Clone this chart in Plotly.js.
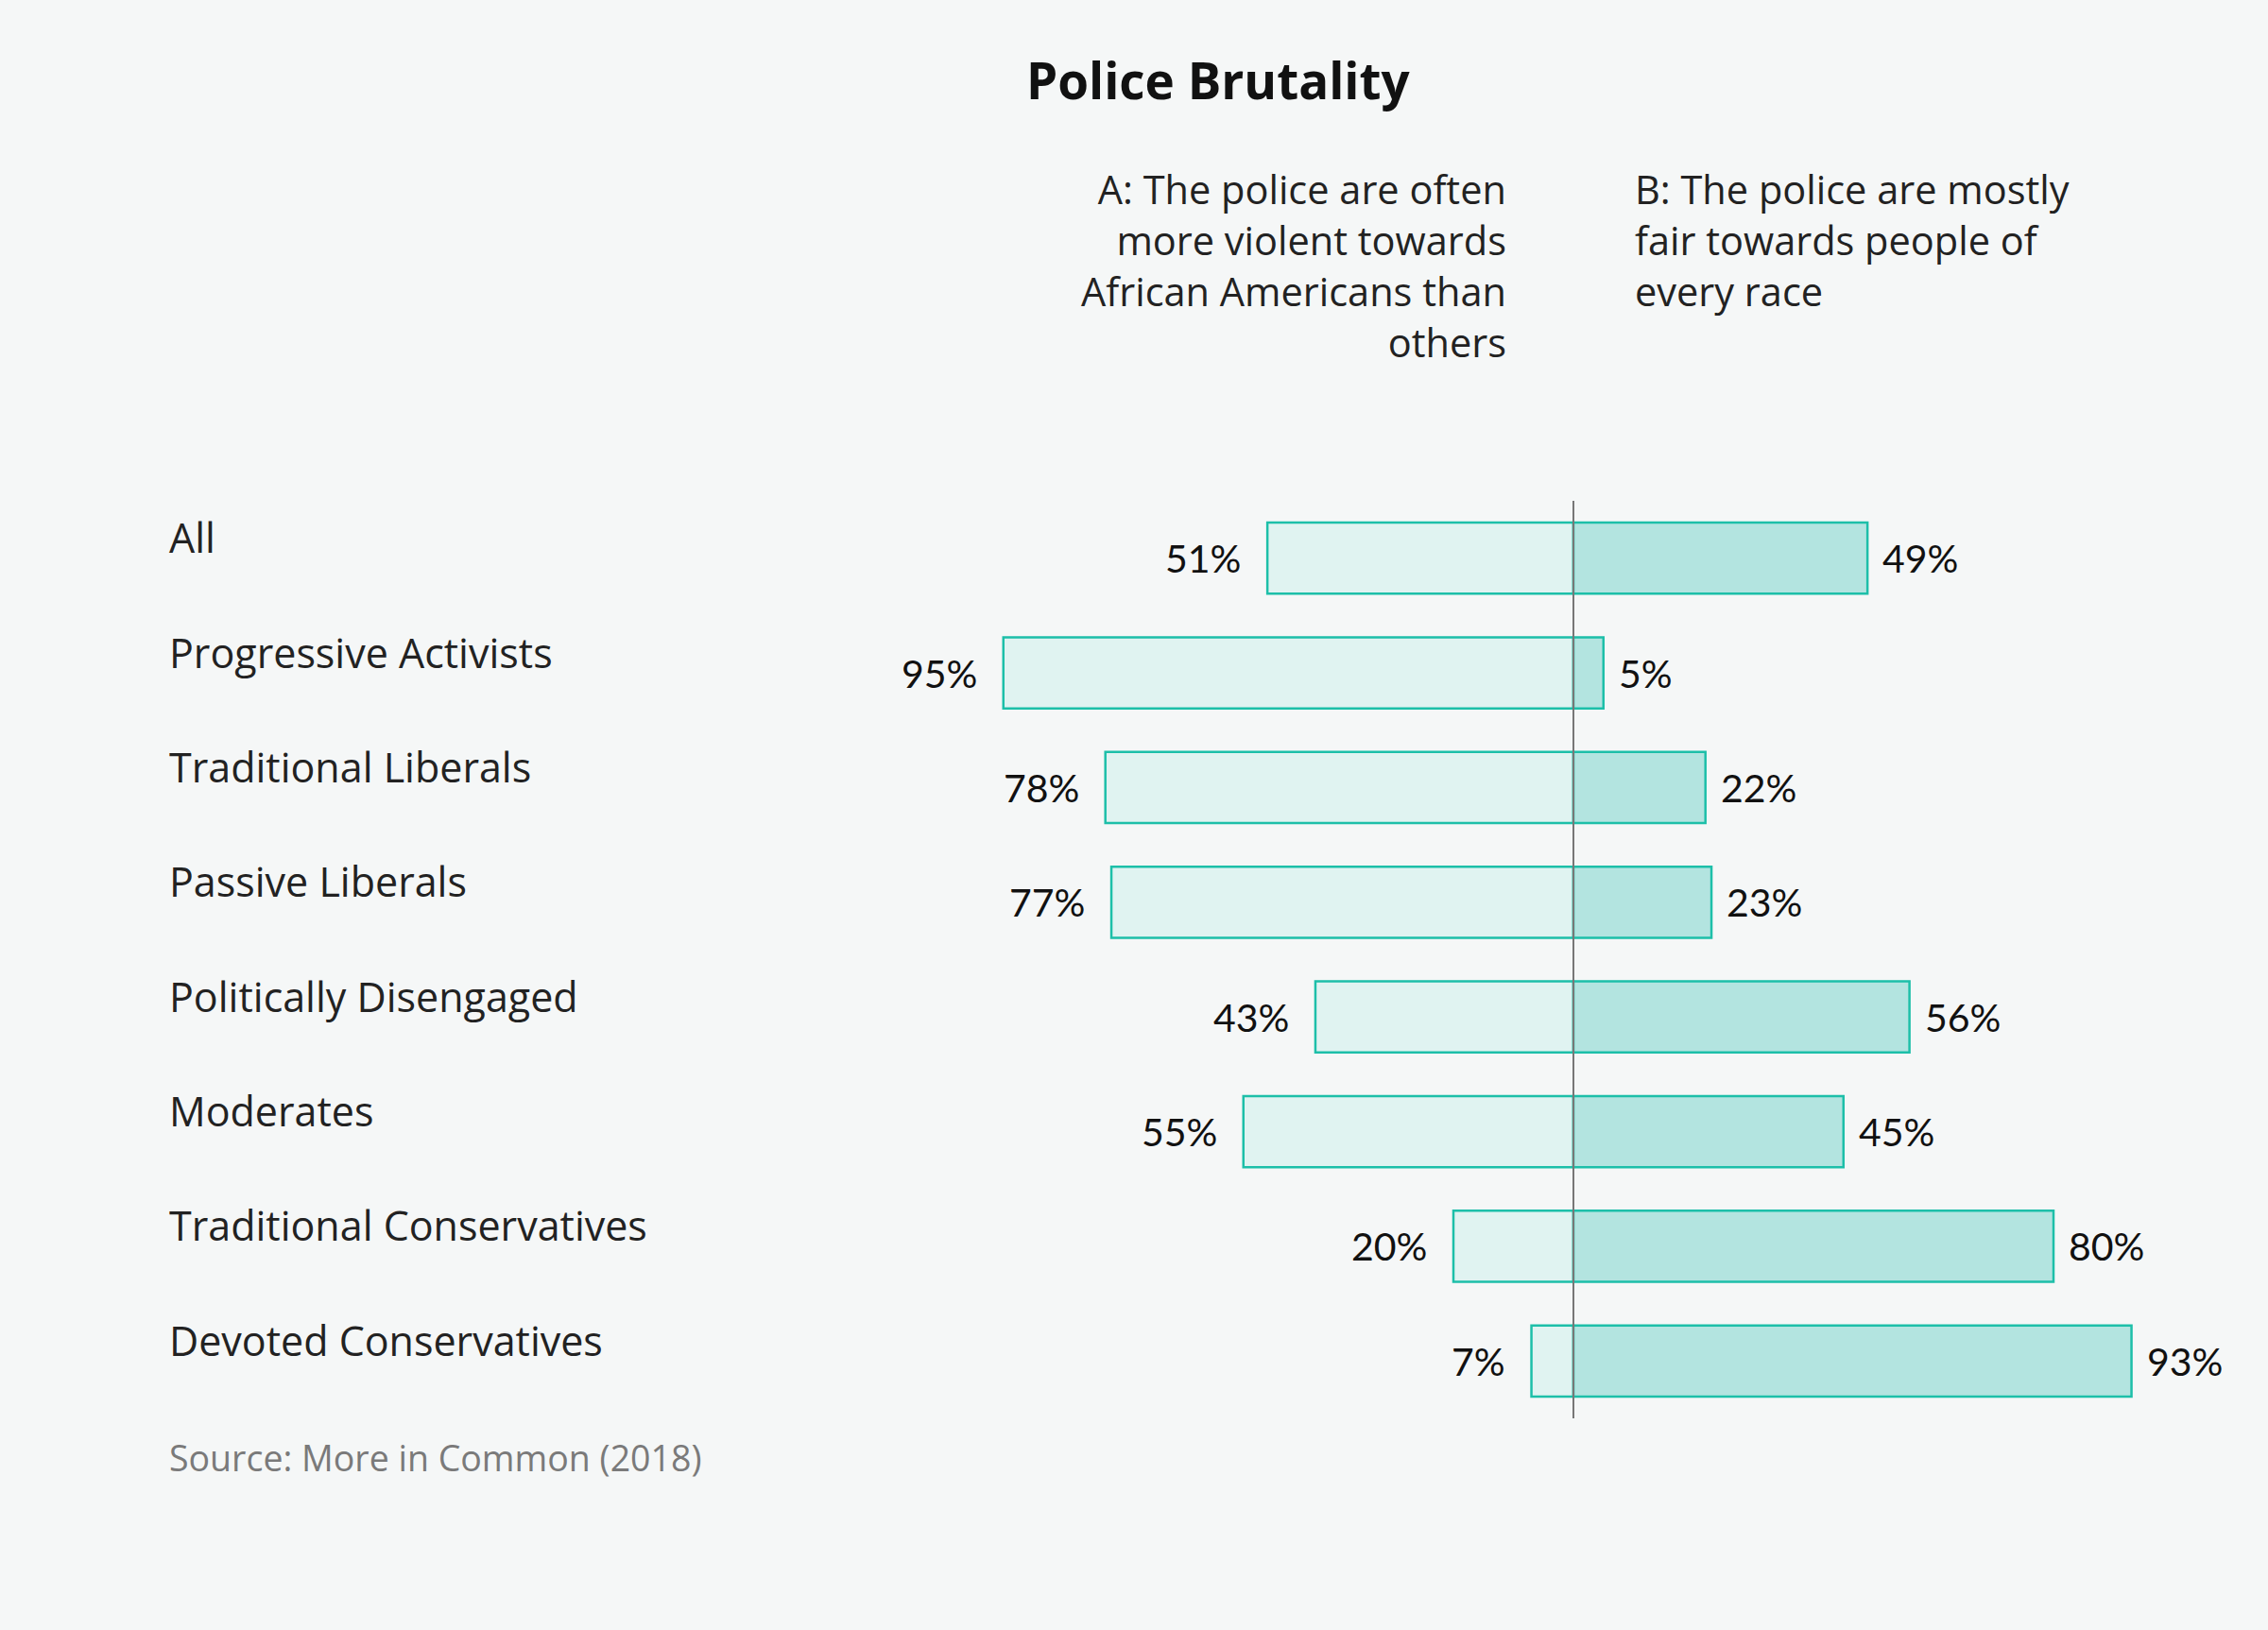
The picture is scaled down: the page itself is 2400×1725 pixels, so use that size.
<!DOCTYPE html>
<html>
<head>
<meta charset="utf-8">
<script src="https://cdn.plot.ly/plotly-3.0.1.min.js"></script>
<style>
html,body{margin:0;padding:0;background:#f5f7f7;}
#chart{width:2400px;height:1725px;}
</style>
</head>
<body>
<div id="chart"></div>
<script>
const categories = ["All","Progressive Activists","Traditional Liberals","Passive Liberals","Politically Disengaged","Moderates","Traditional Conservatives","Devoted Conservatives"];
const valuesA = [51, 95, 78, 77, 43, 55, 20, 7];
const valuesB = [49, 5, 22, 23, 56, 45, 80, 93];
const headerA = "A: The police are often<br>more violent towards<br>African Americans than<br>others";
const headerB = "B: The police are mostly<br>fair towards people of<br>every race";
const titleText = "Police Brutality";
const sourceText = "Source: More in Common (2018)";

const FONT = "'Open Sans', Lato, sans-serif";
const NUMFONT = "Lato, 'Open Sans', sans-serif";
const teal = "#1dbfa9";

const traceA = {
  type: "bar", orientation: "h",
  y: categories, x: valuesA.map(v => -v),
  marker: {color: "#e0f3f1", line: {color: teal, width: 2.5}},
  hoverinfo: "skip", showlegend: false
};
const traceB = {
  type: "bar", orientation: "h",
  y: categories, x: valuesB,
  marker: {color: "#b3e4e0", line: {color: teal, width: 2.5}},
  hoverinfo: "skip", showlegend: false
};

const annotations = [];
categories.forEach((c, i) => {
  annotations.push({xref: "paper", yref: "y", x: -0.6715, y: c, xanchor: "left", yanchor: "middle",
    yshift: 22, text: c, showarrow: false, font: {family: FONT, size: 43, color: "#222"}});
  annotations.push({xref: "x", yref: "y", x: -valuesA[i], y: c, xanchor: "right", yanchor: "middle",
    xshift: -26, text: valuesA[i] + "%", showarrow: false, font: {family: NUMFONT, size: 41, color: "#111"}});
  annotations.push({xref: "x", yref: "y", x: valuesB[i], y: c, xanchor: "left", yanchor: "middle",
    xshift: 14, text: valuesB[i] + "%", showarrow: false, font: {family: NUMFONT, size: 41, color: "#111"}});
});
annotations.push({xref: "x", yref: "paper", x: 0, y: 1.371, xanchor: "right", yanchor: "top", xshift: -69,
  align: "right", text: headerA, showarrow: false, font: {family: FONT, size: 41.5, color: "#222"}});
annotations.push({xref: "x", yref: "paper", x: 0, y: 1.371, xanchor: "left", yanchor: "top", xshift: 63,
  align: "left", text: headerB, showarrow: false, font: {family: FONT, size: 41.5, color: "#222"}});
annotations.push({xref: "paper", yref: "paper", x: -0.6715, y: -0.043, xanchor: "left", yanchor: "middle",
  text: sourceText, showarrow: false, font: {family: FONT, size: 37.5, color: "#7a7a7a"}});

const layout = {
  width: 2400, height: 1725,
  paper_bgcolor: "#f5f7f7", plot_bgcolor: "#f5f7f7",
  margin: {l: 1030, r: 100, t: 530, b: 224},
  barmode: "relative", bargap: 0.38,
  title: {text: "<b>" + titleText + "</b>", x: 0.537, xanchor: "center", xref: "container",
    y: 0.9496, yref: "container", yanchor: "middle",
    font: {family: FONT, size: 53, color: "#111"}},
  xaxis: {range: [-100, 100], visible: false, fixedrange: true},
  yaxis: {autorange: "reversed", visible: false, fixedrange: true},
  shapes: [{type: "line", xref: "x", yref: "paper", x0: 0, x1: 0, y0: 0, y1: 1,
    line: {color: "#777", width: 2}}],
  annotations: annotations
};

Plotly.newPlot("chart", [traceA, traceB], layout, {displayModeBar: false, staticPlot: true});
</script>
</body>
</html>
